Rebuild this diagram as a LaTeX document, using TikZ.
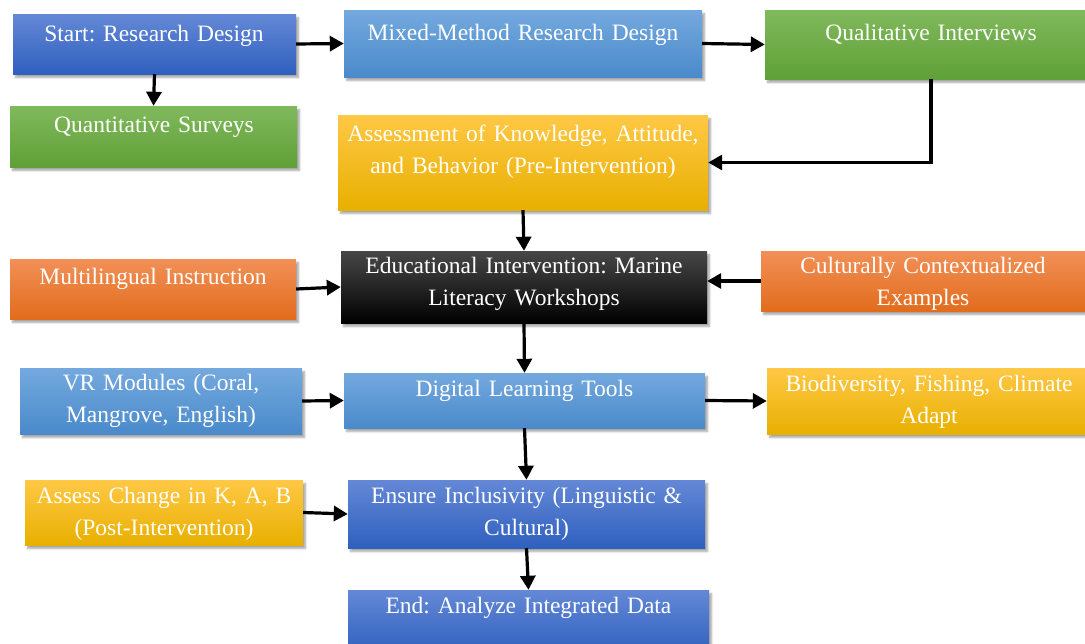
\documentclass[tikz,border=0pt]{standalone}
\usepackage{fontspec}
\setmainfont{Liberation Serif}
\usetikzlibrary{arrows.meta,shadows.blur}
\frenchspacing

\definecolor{bluetop}{HTML}{6488D6}
\definecolor{bluemid}{HTML}{4472C4}
\definecolor{bluebot}{HTML}{2F60BE}
\definecolor{skytop}{HTML}{74A9DE}
\definecolor{skymid}{HTML}{5B9BD5}
\definecolor{skybot}{HTML}{4A8ACB}
\definecolor{greentop}{HTML}{80B95C}
\definecolor{greenmid}{HTML}{70AD47}
\definecolor{greenbot}{HTML}{60A037}
\definecolor{goldtop}{HTML}{FFC845}
\definecolor{goldmid}{HTML}{FFC000}
\definecolor{goldbot}{HTML}{E8B000}
\definecolor{orangetop}{HTML}{F29058}
\definecolor{orangemid}{HTML}{F07D2C}
\definecolor{orangebot}{HTML}{E26C1C}

\tikzset{
  x=1pt, y=1pt,
  card/.style={rectangle, inner sep=0pt, draw=none,
    blur shadow={shadow xshift=2.5pt, shadow yshift=-3.5pt, shadow blur steps=6, shadow opacity=35}},
  bluecard/.style={card, top color=bluetop, middle color=bluemid, bottom color=bluebot},
  skycard/.style={card, top color=skytop, middle color=skymid, bottom color=skybot},
  greencard/.style={card, top color=greentop, middle color=greenmid, bottom color=greenbot},
  goldcard/.style={card, top color=goldtop, middle color=goldmid, bottom color=goldbot},
  orangecard/.style={card, top color=orangetop, middle color=orangemid, bottom color=orangebot},
  blackcard/.style={card, top color=black!72, middle color=black, bottom color=black},
  label/.style={text=white, font=\fontsize{23.5}{32}\selectfont, align=center,
    text width=420pt, inner sep=0pt, anchor=base},
  flow/.style={line width=3.2pt, -{Triangle[length=14pt, width=15pt]}},
}

\begin{document}
\begin{tikzpicture}
\useasboundingbox (0,0) rectangle (1085,-643);

% boxes
\node[bluecard,   minimum width=283, minimum height=60] (start)   at (154.5,-44)   {};
\node[skycard,    minimum width=358, minimum height=67] (mixed)   at (523,-43.5)   {};
\node[greencard,  minimum width=332, minimum height=69] (qual)    at (931,-44.5)   {};
\node[greencard,  minimum width=287, minimum height=61] (quant)   at (153.5,-136.5){};
\node[goldcard,   minimum width=370, minimum height=95] (assess)  at (523,-162.5)  {};
\node[blackcard,  minimum width=366, minimum height=72] (edu)     at (524,-287)    {};
\node[orangecard, minimum width=286, minimum height=60] (multi)   at (153,-289)    {};
\node[orangecard, minimum width=330, minimum height=60] (cult)    at (926,-281)    {};
\node[skycard,    minimum width=282, minimum height=66] (vr)      at (161,-401)    {};
\node[skycard,    minimum width=361, minimum height=55] (digital) at (524.5,-400.5){};
\node[goldcard,   minimum width=326, minimum height=66] (bio)     at (930,-401)    {};
\node[goldcard,   minimum width=278, minimum height=65] (achange) at (164,-512.5)  {};
\node[bluecard,   minimum width=357, minimum height=68] (ensure)  at (526.5,-514)  {};
\node[bluecard,   minimum width=361, minimum height=64] (finish)  at (528.5,-622)  {};

% texts (anchored on the baseline of the first line)
\node[label] (start-t)   at (154,-41)  {Start: Research Design};
\node[label] (mixed-t)   at (523,-40)  {Mixed-Method Research Design};
\node[label] (qual-t)    at (931,-40)  {Qualitative Interviews};
\node[label] (quant-t)   at (154,-132) {Quantitative Surveys};
\node[label] (assess-t)  at (523,-141) {Assessment of Knowledge, Attitude,\\and Behavior (Pre-Intervention)};
\node[label] (edu-t)     at (524,-273.5) {Educational Intervention: Marine\\Literacy Workshops};
\node[label] (multi-t)   at (153,-284.5) {Multilingual Instruction};
\node[label] (cult-t)    at (923,-273.5) {Culturally Contextualized\\Examples};
\node[label] (vr-t)      at (161,-390.5) {VR Modules (Coral,\\Mangrove, English)};
\node[label] (digital-t) at (524.5,-396) {Digital Learning Tools};
\node[label] (bio-t)     at (929,-391) {Biodiversity, Fishing, Climate\\Adapt};
\node[label] (achange-t) at (164,-503) {Assess Change in K, A, B\\(Post-Intervention)};
\node[label] (ensure-t)  at (526.5,-503) {Ensure Inclusivity (Linguistic \&\\Cultural)};
\node[label] (finish-t)  at (528.5,-613) {End: Analyze Integrated Data};

% connectors
\draw[flow] (start.east) -- (mixed.west);
\draw[flow] (mixed.east) -- (qual.west);
\draw[flow] (start.south) -- (quant.north);
\draw[flow] (qual.south) |- (assess.east);
\draw[flow] (assess.south) -- (edu.north);
\draw[flow] (multi.east) -- (edu.west);
\draw[flow] (cult.west) -- (cult.west -| edu.east);
\draw[flow] (edu.south) -- (digital.north);
\draw[flow] (vr.east) -- (digital.west);
\draw[flow] (digital.east) -- (bio.west);
\draw[flow] (digital.south) -- (ensure.north);
\draw[flow] (achange.east) -- (ensure.west);
\draw[flow] (ensure.south) -- (finish.north);
\end{tikzpicture}
\end{document}
